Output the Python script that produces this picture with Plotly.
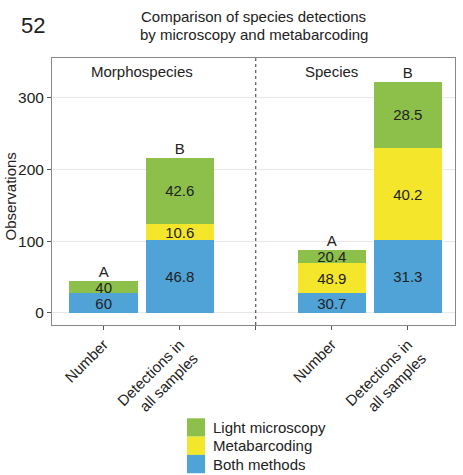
import plotly.graph_objects as go

# ---- data ----
groups = ["Morphospecies", "Morphospecies", "Species", "Species"]
measures = ["Number", "Detections in all samples", "Number", "Detections in all samples"]
tick_labels = ["Number", "Detections in<br>all samples", "", "Number", "Detections in<br>all samples"]

both_vals = [27, 101, 27, 101]
meta_vals = [0, 23, 43, 129]
light_vals = [18, 92, 18, 92]

both_pct = ["60", "46.8", "30.7", "31.3"]
meta_pct = ["", "10.6", "48.9", "40.2"]
light_pct = ["40", "42.6", "20.4", "28.5"]

letters = ["A", "B", "A", "B"]

GREEN = "#8cc04b"
YELLOW = "#f3e62b"
BLUE = "#4fa3d7"
FONT = "Liberation Sans, Arial, sans-serif"
TXT = "#222222"
FS = 15

# figure geometry (page body margin removed below, so figure px == page px)
W, H = 463, 475
ML, MR, MT, MB = 52, 8, 58, 150
PW, PH = W - ML - MR, H - MT - MB


def px(page_x):
    return (page_x - ML) / PW


def py(page_y):
    return (H - MB - page_y) / PH


x_keys = [f"{g}: {m}" for g, m in zip(groups, measures)]
divider = "divider"
cat_order = [x_keys[0], x_keys[1], divider, x_keys[2], x_keys[3]]

series = [
    ("Both methods", both_vals, both_pct, BLUE),
    ("Metabarcoding", meta_vals, meta_pct, YELLOW),
    ("Light microscopy", light_vals, light_pct, GREEN),
]

fig = go.Figure()
for name, vals, labels, col in series:
    fig.add_trace(go.Bar(
        x=x_keys, y=vals, name=name, marker=dict(color=col, line=dict(width=0)),
        text=labels, textposition="inside", insidetextanchor="middle", textangle=0,
        textfont=dict(size=FS, color=TXT, family=FONT), width=0.9,
        hoverinfo="skip", showlegend=False,
    ))

totals = [b + m + l for b, m, l in zip(both_vals, meta_vals, light_vals)]
fig.add_trace(go.Scatter(
    x=x_keys, y=totals, mode="text", text=letters, textposition="top center",
    textfont=dict(size=FS, color=TXT, family=FONT), showlegend=False, hoverinfo="skip",
))

fig.add_shape(type="line", xref="x", yref="paper", x0=divider, x1=divider, y0=0, y1=1,
              line=dict(color="#333333", width=1, dash="dot"))

fig.add_annotation(x=0.5, y=1, xref="x", yref="paper", yanchor="middle", yshift=-13,
                   text="Morphospecies", showarrow=False,
                   font=dict(size=FS, color=TXT, family=FONT))
fig.add_annotation(x=3.0, y=1, xref="x", yref="paper", yanchor="middle", yshift=-13,
                   text="Species", showarrow=False,
                   font=dict(size=FS, color=TXT, family=FONT))

fig.add_annotation(x=px(19), y=py(26), xref="paper", yref="paper", xanchor="left", yanchor="middle",
                   text="52", showarrow=False, font=dict(size=22, color=TXT, family=FONT))
fig.add_annotation(x=px(254), y=py(16), xref="paper", yref="paper", xanchor="center", yanchor="middle",
                   text="Comparison of species detections",
                   showarrow=False, font=dict(size=FS, color=TXT, family=FONT))
fig.add_annotation(x=px(254), y=py(34), xref="paper", yref="paper", xanchor="center", yanchor="middle",
                   text="by microscopy and metabarcoding",
                   showarrow=False, font=dict(size=FS, color=TXT, family=FONT))

# y-axis title
fig.add_annotation(x=px(10.5), y=py(197), xref="paper", yref="paper", xanchor="center", yanchor="middle",
                   text="Observations", textangle=-90, showarrow=False,
                   font=dict(size=FS, color=TXT, family=FONT))

# legend (ggplot style: touching 18px keys, top to bottom reversed)
key_left, key_size, key_top = 187, 18.3, 418.3
for i, (name, _, _, col) in enumerate(reversed(series)):
    top = key_top + i * key_size
    fig.add_shape(type="rect", xref="paper", yref="paper",
                  x0=px(key_left), x1=px(key_left + 18), y0=py(top + key_size), y1=py(top),
                  fillcolor=col, line=dict(width=0), layer="above")
    fig.add_annotation(x=px(211), y=py(top + key_size / 2), xref="paper", yref="paper",
                       xanchor="left", yanchor="middle", text=name, showarrow=False,
                       font=dict(size=FS, color=TXT, family=FONT))

fig.update_layout(
    width=W, height=H,
    margin=dict(l=ML, r=MR, t=MT, b=MB, autoexpand=False),
    paper_bgcolor="white", plot_bgcolor="white",
    barmode="stack", bargap=0.1,
    font=dict(family=FONT, color=TXT, size=FS),
    uniformtext=dict(minsize=FS, mode="show"),
    showlegend=False,
    xaxis=dict(type="category", categoryorder="array", categoryarray=cat_order,
               tickmode="array", tickvals=cat_order, ticktext=tick_labels,
               range=[-0.68, 4.62], tickangle=-45, showgrid=False, automargin=False,
               ticks="outside", ticklen=4, tickcolor="#555555",
               showline=True, mirror=True, linecolor="#888888", linewidth=1,
               tickfont=dict(size=FS, color=TXT, family=FONT)),
    yaxis=dict(range=[-17, 355.5], tickvals=[0, 100, 200, 300], showgrid=True,
               gridcolor="#eee6e6", gridwidth=1, zeroline=False, automargin=False,
               ticks="outside", ticklen=4, tickcolor="#555555",
               showline=True, mirror=True, linecolor="#888888", linewidth=1,
               tickfont=dict(size=15.5, color=TXT, family=FONT)),
)

fig.write_html("out.html", config={"displayModeBar": False},
               post_script="document.body.style.margin='0';document.body.style.overflow='hidden';")
